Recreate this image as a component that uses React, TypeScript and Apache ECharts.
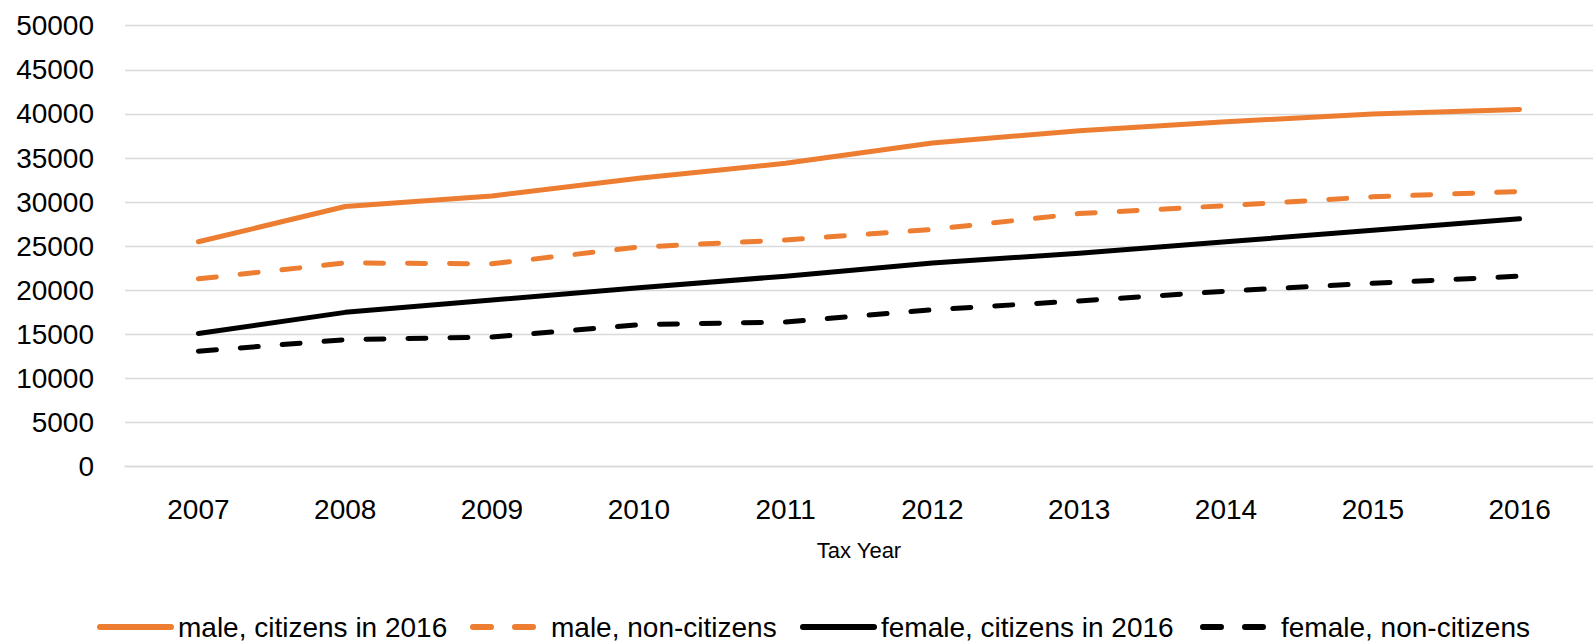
import React, { useEffect, useRef } from "react";
import * as echarts from "echarts";

const years = ["2007", "2008", "2009", "2010", "2011", "2012", "2013", "2014", "2015", "2016"];
const maleCitizens = [25500, 29500, 30700, 32700, 34400, 36700, 38100, 39100, 40000, 40500];
const maleNonCitizens = [21300, 23100, 23000, 24900, 25700, 26900, 28700, 29600, 30600, 31200];
const femaleCitizens = [15100, 17500, 18900, 20300, 21600, 23100, 24200, 25500, 26800, 28100];
const femaleNonCitizens = [13100, 14400, 14700, 16100, 16400, 17800, 18800, 19900, 20800, 21600];
const seriesNames = [
  "male, citizens in 2016",
  "male, non-citizens",
  "female, citizens in 2016",
  "female, non-citizens",
];

const ORANGE = "#ED7D31";
const BLACK = "#000000";
const FONT = "Liberation Sans";
const legendLefts = [97, 470, 800, 1200];

export default function App() {
  const ref = useRef<HTMLDivElement>(null);
  useEffect(() => {
    if (!ref.current) return;
    const chart = echarts.init(ref.current, undefined, { renderer: "svg" });
    const mk = (name: string, data: number[], color: string, dashed: boolean) => ({
      name,
      type: "line",
      data,
      symbol: "none",
      showSymbol: false,
      lineStyle: {
        color,
        width: 5,
        type: dashed ? [18, 24] : "solid",
        cap: "round",
        join: "round",
      },
      itemStyle: { color },
    });
    chart.setOption({
      animation: false,
      backgroundColor: "#ffffff",
      grid: { left: 125, right: -8, top: 25.7, bottom: 174.3, containLabel: false },
      legend: seriesNames.map((n, i) => ({
        left: legendLefts[i],
        top: 613,
        padding: 0,
        itemWidth: 71,
        itemHeight: 14,
        itemStyle: { opacity: 0 },
        lineStyle: { width: 6, cap: "round" },
        textStyle: { fontFamily: FONT, fontSize: 28, color: "#000", padding: [0, 0, 0, 2] },
        data: [n],
      })),
      xAxis: {
        type: "category",
        data: years,
        boundaryGap: true,
        name: "Tax Year",
        nameLocation: "middle",
        nameGap: 73,
        nameTextStyle: { fontFamily: FONT, fontSize: 22, color: "#000" },
        axisLine: { show: true, lineStyle: { color: "#D9D9D9", width: 1.3 } },
        axisTick: { show: false },
        axisLabel: { fontFamily: FONT, fontSize: 28, color: "#000", margin: 29 },
        splitLine: { show: false },
      },
      yAxis: {
        type: "value",
        min: 0,
        max: 50000,
        interval: 5000,
        axisLine: { show: false },
        axisTick: { show: false },
        axisLabel: {
          fontFamily: FONT,
          fontSize: 28,
          color: "#000",
          margin: 31,
          formatter: (v: number) => String(v),
        },
        splitLine: { show: true, lineStyle: { color: "#D9D9D9", width: 1.3 } },
      },
      series: [
        mk(seriesNames[0], maleCitizens, ORANGE, false),
        mk(seriesNames[1], maleNonCitizens, ORANGE, true),
        mk(seriesNames[2], femaleCitizens, BLACK, false),
        mk(seriesNames[3], femaleNonCitizens, BLACK, true),
      ],
    });
    return () => chart.dispose();
  }, []);
  return (
    <div
      ref={ref}
      style={{ position: "fixed", left: 0, top: 0, width: 1593, height: 641, background: "#fff" }}
    />
  );
}
